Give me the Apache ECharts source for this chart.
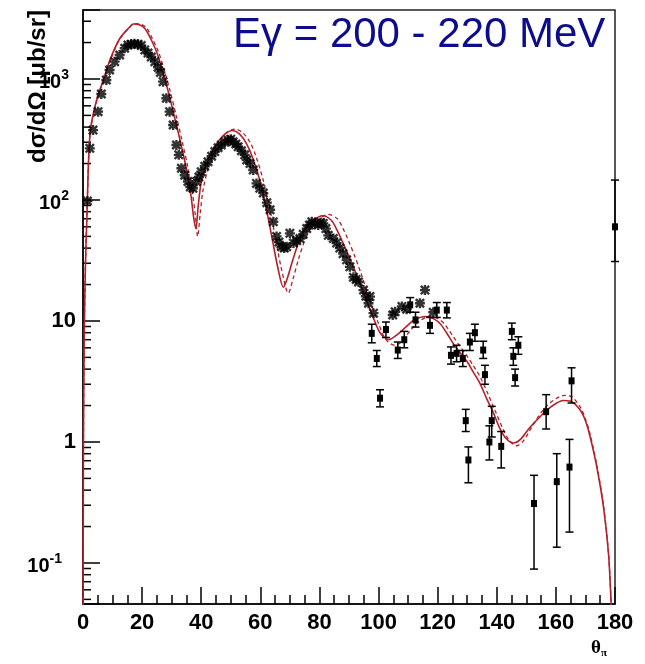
<!DOCTYPE html>
<html>
<head>
<meta charset="utf-8">
<script src="https://cdn.jsdelivr.net/npm/echarts@6/dist/echarts.min.js"></script>
<style>
  html, body { margin: 0; padding: 0; background: #fff; }
  #chart { width: 645px; height: 664px; }
</style>
</head>
<body>
<div id="chart"></div>
<script>
// ---- Data ----
const titleText = 'Eγ = 200 - 220 MeV';
const yTitle = 'dσ/dΩ [μb/sr]';

// Solid red model curve
const thetaSolid = [0,0.15,0.4,0.8,1.3,2.4,4.6,6.9,9.1,12.5,15.9,17,19.3,21,23,25,27,29,31,33,35,36.5,37.5,38.2,39,40,42,44,46,48,50.5,53,55.4,57.5,60,62,64,66,67.8,69,71,73,75,78,81,84,86,88,90,92,95,98,100.5,103.5,106,109,112,116,119,121,123,125.3,128,130,132,134.3,136.5,138.9,141,143,145.6,148,151,154.7,157,160,162.5,165,168.2,170,171.6,173.8,176.1,177.8,178.6,179.3,180];
const solidCurve = [0.01,1,7,27,70,360,670,980,1435,2170,2700,2850,2790,2600,2130,1650,1150,760,480,300,180,110,70,58,90,140,205,260,310,350,375,350,290,220,140,85,48,27,19,22,32,45,57,68,74,68,56,44,34,26,17,11,8,7,7.6,8.8,10.2,10.9,10.3,9.4,8,6.5,5.3,4.6,3.8,3.05,2.3,1.73,1.3,1.08,0.98,1.05,1.3,1.62,1.84,2.08,2.2,2.17,1.84,1.5,1.1,0.63,0.29,0.12,0.052,0.02,0.005];

// Dashed red model curve
const thetaDashed = [0,0.15,0.4,0.8,1.3,2.4,4.6,6.9,9.1,12.5,15.9,17.5,19.8,21.5,23.5,25.5,27.5,29.5,31.5,33.5,35.5,37,38,38.8,39.6,40.6,42.5,44.5,46.5,48.5,51.5,54,56.5,58.5,61,63,65,67,69.5,71,73,75,77,80,83,86,88,90,92,94,97,100,102.5,105.5,108,111,114,117,120,122.5,125,127.5,130,132,134.5,137,139.5,142,144,146.7,149,152,155,158,161,163,165.5,168.2,170,171.6,173.8,176.1,177.8,178.6,179.3,180];
const dashedCurve = [0.01,1,7,27,70,350,650,960,1400,2150,2700,2870,2820,2640,2150,1680,1180,790,500,310,185,115,75,50,75,120,190,250,310,360,385,360,300,230,145,90,50,28,17,22,33,46,58,70,76,70,58,45,34,25,15,9.5,7,6.3,6.8,8.5,10,10.9,10.5,9.3,7.6,6.2,5.1,4.3,3.4,2.5,1.8,1.3,1.05,0.93,1.02,1.35,1.75,2.1,2.35,2.43,2.35,1.95,1.55,1.15,0.65,0.3,0.12,0.052,0.02,0.005];

// Asterisk data points
const thetaStar = [1.5,2.3,3.4,5.1,6.2,7.9,9.0,10.7,12.4,14.1,15.2,16.3,17.4,18.6,19.7,20.9,22.0,23.1,24.3,25.4,26.2,27.1,28.2,29.3,30.5,31.6,32.4,33.3,34.4,35.5,36.3,37.2,38.4,39.2,40.0,41.2,42.3,43.5,44.6,45.7,46.8,48.0,49.1,50.0,50.8,51.7,52.5,53.6,54.7,55.4,56.5,57.6,58.7,59.8,61.0,62.2,63.3,64.4,65.5,66.3,67.2,68.1,68.9,70.0,71.2,72.3,73.4,74.5,75.7,76.6,77.4,78.5,79.6,80.4,81.3,82.2,83.0,84.7,85.8,86.9,88.0,89.2,90.3,91.5,92.4,93.2,94.9,95.7,96.6,97.1,98.3,104.8,105.6,107.9,109.5,114.0,115.7,118.5];
const starValues = [98,267,378,537,751,980,1186,1390,1578,1792,1911,1937,1950,1937,1890,1738,1640,1520,1390,1250,1130,950,692,537,417,285,236,183,160,142,128,125,142,155,171,190,207,230,251,270,285,300,313,318,303,290,275,255,236,214,200,177,137,125,114,95,83,66,50,45,41,40,41,53,44,46,48,52,58,62,66,64,62,65,64,58,51,48,44,40,36,32,28,23,22,21,18,16,14,15.9,11.6,11.2,11.9,13.2,12.5,14,18,11.8];

// Square data points with error bars
const thetaSquare = [97.7,99.4,100.5,102.5,106.5,108.7,110.7,112.5,117.4,119.7,123.1,124.5,126.4,128.5,129.5,130.4,130.9,132.6,135.4,136.0,137.5,138.3,141.5,145.1,147.3,145.6,146.2,152.6,156.7,160.3,164.6,165.3,180];
const squareValues = [7.9,4.9,2.3,8.5,5.75,7.0,13.6,10.2,9.2,12.3,12.3,5.2,5.4,4.9,1.5,0.71,6.7,8.0,5.75,3.6,1.0,1.5,0.92,8.2,6.3,5.1,3.4,0.31,1.78,0.47,0.62,3.2,60];
const squareLow = [6.6,4.2,1.95,7.3,4.9,6.0,11.8,8.9,7.9,10.7,10.6,4.4,4.6,4.2,1.22,0.46,5.7,6.8,4.9,3.0,0.71,1.1,0.61,7.0,5.3,4.3,2.9,0.089,1.28,0.135,0.18,2.1,31];
const squareHigh = [9.4,5.7,2.7,9.8,6.7,8.2,15.6,11.8,10.7,14.2,14.2,6.1,6.3,5.7,1.86,0.91,7.9,9.4,6.8,4.3,1.36,1.97,1.22,9.6,7.4,6.0,4.0,0.53,2.46,0.8,1.05,4.1,146];

// Axis ranges
const xMin = 0, xMax = 180, xStep = 20;
const yMin = 0.0458, yMax = 3715;

// ---- Chart ----
const FONT = '"Liberation Sans", Arial, Helvetica, sans-serif';
const RED = '#b3202a';

const minorYTicks = [];
for (let k = -2; k <= 3; k++) {
  for (let m = 2; m <= 9; m++) {
    const v = m * Math.pow(10, k);
    if (v > yMin && v < yMax) minorYTicks.push([xMin, v]);
  }
}

const asteriskPath = 'path://M3.8,0H6.2V10H3.8Z M0,3.8H10V6.2H0Z M1.7,0L10,8.3L8.3,10L0,1.7Z M8.3,0L10,1.7L1.7,10L0,8.3Z';

function yLabel(v) {
  const e = Math.log10(v);
  const r = Math.round(e);
  if (Math.abs(e - r) > 1e-6) return '';
  if (r === 0) return '{p|1}';
  if (r === 1) return '{p|10}';
  if (r < 0) return '{e|10}{n|' + r + '}';
  return '{e|10}{s|' + r + '}';
}

const chart = echarts.init(document.getElementById('chart'), null, { renderer: 'canvas' });
chart.setOption({
  animation: false,
  backgroundColor: '#fff',
  title: [
    {
      text: titleText,
      left: 233, top: 14, padding: 0,
      textStyle: { color: '#0c0c8c', fontSize: 42, fontWeight: 'normal', fontFamily: FONT }
    },
    {
      text: '{t|θ}{p|π}',
      left: 591, top: 637, padding: 0,
      textStyle: {
        rich: {
          t: { fontFamily: '"Liberation Serif", "Times New Roman", serif', fontSize: 19, lineHeight: 22, color: '#000' },
          p: { fontFamily: '"Liberation Serif", "Times New Roman", serif', fontSize: 11, lineHeight: 11, verticalAlign: 'bottom', color: '#000' }
        }
      }
    }
  ],
  graphic: [
    {
      type: 'text',
      x: 38, y: 10,
      rotation: Math.PI / 2,
      style: {
        text: yTitle,
        font: 'bold 24px ' + FONT,
        fill: '#000',
        align: 'right',
        verticalAlign: 'middle'
      }
    }
  ],
  grid: {
    left: 83, right: 30, top: 10, bottom: 60,
    show: true, borderColor: '#222', borderWidth: 1.5, backgroundColor: 'transparent'
  },
  xAxis: {
    type: 'value', min: xMin, max: xMax, interval: xStep,
    axisLine: { lineStyle: { color: '#000', width: 1.5 } },
    axisTick: { inside: true, length: 17, lineStyle: { color: '#000', width: 1.5 } },
    minorTick: { show: true, splitNumber: 4, length: 9, lineStyle: { color: '#000', width: 1.5 } },
    splitLine: { show: false },
    axisLabel: { color: '#000', fontSize: 22, fontWeight: 'bold', fontFamily: FONT, margin: 8 }
  },
  yAxis: {
    type: 'log', logBase: 10, min: yMin, max: yMax,
    axisLine: { lineStyle: { color: '#000', width: 1.5 } },
    axisTick: { inside: true, length: 17, lineStyle: { color: '#000', width: 1.5 } },
    splitLine: { show: false },
    axisLabel: {
      margin: 7,
      formatter: yLabel,
      rich: {
        p: { fontSize: 22, fontWeight: 'bold', fontFamily: FONT, color: '#000', lineHeight: 26 },
        e: { fontSize: 20, fontWeight: 'bold', fontFamily: FONT, color: '#000', lineHeight: 22, padding: [8, 0, 0, 0] },
        s: { fontSize: 14, fontWeight: 'bold', fontFamily: FONT, color: '#000', lineHeight: 14, verticalAlign: 'top', padding: [0, 7, 0, 0] },
        n: { fontSize: 14, fontWeight: 'bold', fontFamily: FONT, color: '#000', lineHeight: 14, verticalAlign: 'top', padding: [0, 14, 0, 0] }
      }
    }
  },
  series: [
    {
      type: 'custom',
      name: 'yMinorTicks',
      silent: true,
      clip: false,
      z: 3,
      data: minorYTicks,
      renderItem: function (params, api) {
        const p = api.coord([api.value(0), api.value(1)]);
        return {
          type: 'line',
          shape: { x1: p[0], y1: p[1], x2: p[0] + 8, y2: p[1] },
          style: { stroke: '#000', lineWidth: 1.5 }
        };
      }
    },
    {
      type: 'line',
      name: 'model',
      data: thetaSolid.map((t, i) => [t, solidCurve[i]]),
      showSymbol: false,
      smooth: 0.3,
      clip: true,
      lineStyle: { color: RED, width: 1.6 },
      z: 4
    },
    {
      type: 'line',
      name: 'model2',
      data: thetaDashed.map((t, i) => [t, dashedCurve[i]]),
      showSymbol: false,
      smooth: 0.3,
      clip: true,
      lineStyle: { color: RED, width: 1.3, type: [4, 3] },
      z: 4
    },
    {
      type: 'scatter',
      name: 'data1',
      data: thetaStar.map((t, i) => [t, starValues[i]]),
      symbol: asteriskPath,
      symbolSize: 10,
      itemStyle: { color: '#000' },
      z: 5
    },
    {
      type: 'custom',
      name: 'data2',
      clip: false,
      z: 5,
      data: thetaSquare.map((t, i) => [t, squareValues[i], squareLow[i], squareHigh[i]]),
      renderItem: function (params, api) {
        const c = api.coord([api.value(0), api.value(1)]);
        const lo = api.coord([api.value(0), api.value(2)]);
        const hi = api.coord([api.value(0), api.value(3)]);
        const cap = 4;
        const st = { stroke: '#000', lineWidth: 1.5 };
        return {
          type: 'group',
          children: [
            { type: 'line', shape: { x1: c[0], y1: lo[1], x2: c[0], y2: hi[1] }, style: st },
            { type: 'line', shape: { x1: c[0] - cap, y1: lo[1], x2: c[0] + cap, y2: lo[1] }, style: st },
            { type: 'line', shape: { x1: c[0] - cap, y1: hi[1], x2: c[0] + cap, y2: hi[1] }, style: st },
            { type: 'rect', shape: { x: c[0] - 3, y: c[1] - 3.5, width: 6, height: 7 }, style: { fill: '#000' } }
          ]
        };
      }
    }
  ]
});
</script>
</body>
</html>
